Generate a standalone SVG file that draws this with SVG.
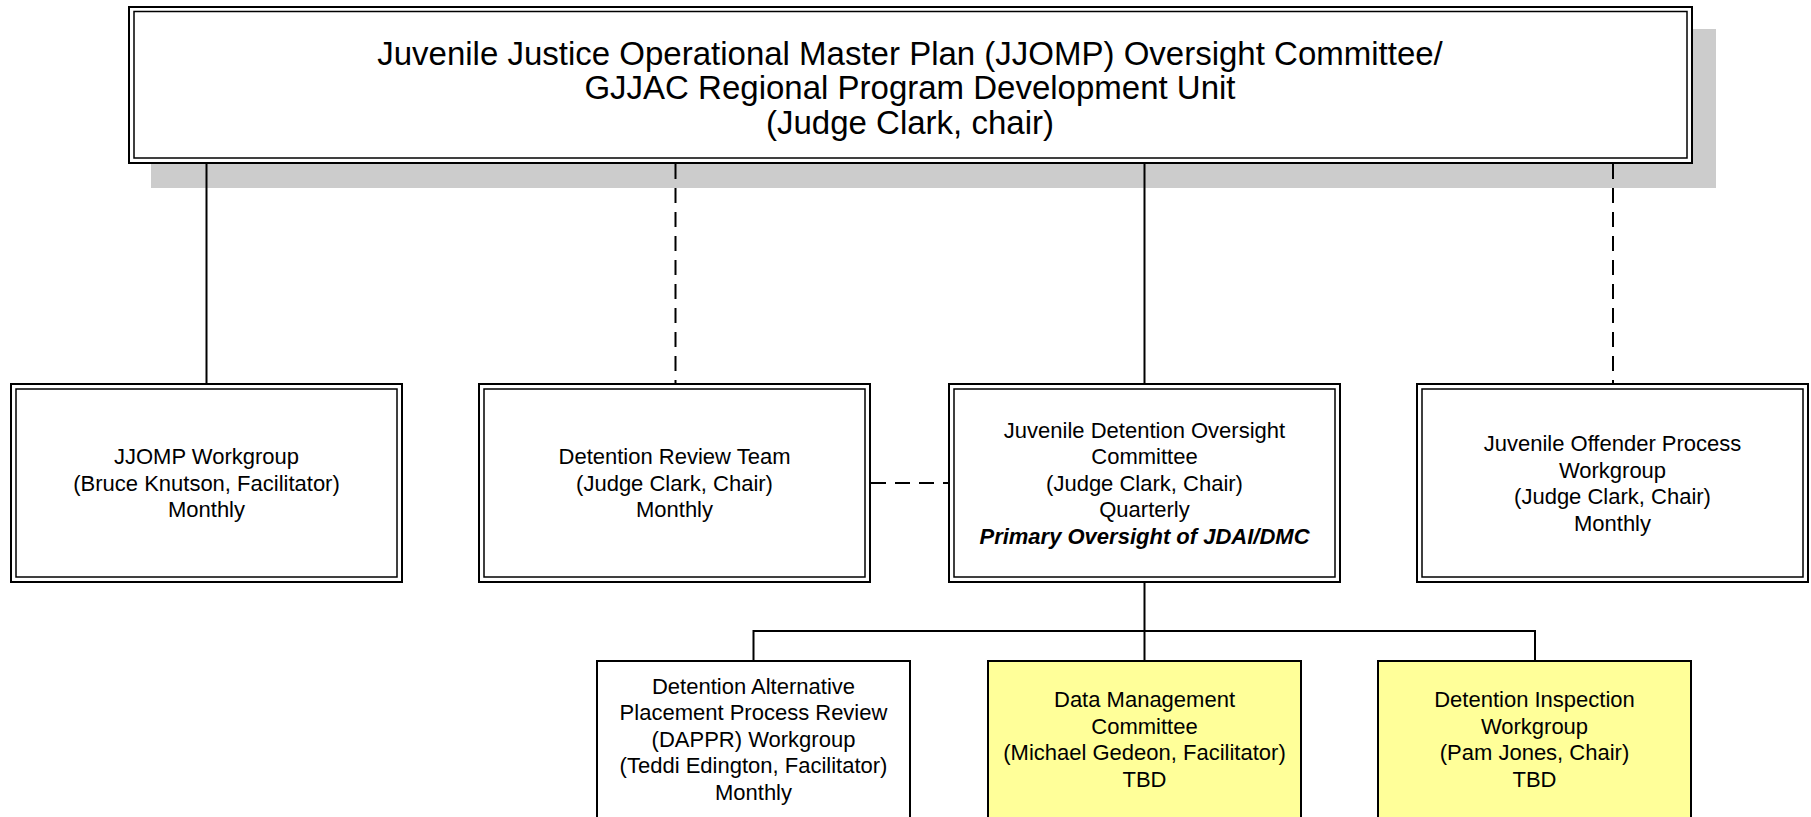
<svg xmlns="http://www.w3.org/2000/svg" width="1811" height="817" viewBox="0 0 1811 817">
<defs>
<style>
text{font-family:"Liberation Sans",Arial,sans-serif;fill:#000;text-anchor:middle}
.t{font-size:33px}
.s{font-size:22px}
.bi{font-weight:bold;font-style:italic}
.o{fill:#fff;stroke:#000;stroke-width:2}
.i{fill:none;stroke:#000;stroke-width:1.5}
.y{fill:#ffff99;stroke:#000;stroke-width:2}
.w{fill:#fff;stroke:#000;stroke-width:2}
.c{stroke:#000;stroke-width:2;fill:none}
.d{stroke:#000;stroke-width:2;fill:none;stroke-dasharray:15 9}
</style>
</defs>
<rect width="1811" height="817" fill="#fff"/>
<rect id="shadow" x="151" y="29" width="1565" height="159" fill="#cccccc"/>
<g id="connectors">
<line class="c" x1="206.5" y1="163" x2="206.5" y2="384"/>
<line class="d" x1="675.5" y1="164" x2="675.5" y2="384"/>
<line class="c" x1="1144.5" y1="163" x2="1144.5" y2="384"/>
<line class="d" x1="1613" y1="164" x2="1613" y2="384"/>
<line class="d" x1="871" y1="483" x2="948" y2="483"/>
<line class="c" x1="1144.5" y1="582" x2="1144.5" y2="661"/>
<polyline class="c" points="753.5,661 753.5,631 1535,631 1535,661"/>
</g>
<g id="top">
<rect class="o" x="129" y="7" width="1563" height="156"/>
<rect class="i" x="134" y="11.5" width="1553" height="146.5"/>
<text class="t" x="910" y="65">Juvenile Justice Operational Master Plan (JJOMP) Oversight Committee/</text>
<text class="t" x="910" y="99">GJJAC Regional Program Development Unit</text>
<text class="t" x="910" y="134">(Judge Clark, chair)</text>
</g>
<g id="jjomp">
<rect class="o" x="11" y="384" width="391" height="198"/>
<rect class="i" x="16" y="389" width="381" height="188"/>
<text class="s" x="206.5" y="464">JJOMP Workgroup</text>
<text class="s" x="206.5" y="490.5">(Bruce Knutson, Facilitator)</text>
<text class="s" x="206.5" y="517">Monthly</text>
</g>
<g id="review">
<rect class="o" x="479" y="384" width="391" height="198"/>
<rect class="i" x="484" y="389" width="381" height="188"/>
<text class="s" x="674.5" y="464">Detention Review Team</text>
<text class="s" x="674.5" y="490.5">(Judge Clark, Chair)</text>
<text class="s" x="674.5" y="517">Monthly</text>
</g>
<g id="jdoc">
<rect class="o" x="949" y="384" width="391" height="198"/>
<rect class="i" x="954" y="389" width="381" height="188"/>
<text class="s" x="1144.5" y="438">Juvenile Detention Oversight</text>
<text class="s" x="1144.5" y="464">Committee</text>
<text class="s" x="1144.5" y="490.5">(Judge Clark, Chair)</text>
<text class="s" x="1144.5" y="517">Quarterly</text>
<text class="s bi" x="1144.5" y="543.5">Primary Oversight of JDAI/DMC</text>
</g>
<g id="jop">
<rect class="o" x="1417" y="384" width="391" height="198"/>
<rect class="i" x="1422" y="389" width="381" height="188"/>
<text class="s" x="1612.5" y="451">Juvenile Offender Process</text>
<text class="s" x="1612.5" y="477.5">Workgroup</text>
<text class="s" x="1612.5" y="504">(Judge Clark, Chair)</text>
<text class="s" x="1612.5" y="530.5">Monthly</text>
</g>
<g id="dappr">
<rect class="w" x="597" y="661" width="313" height="170"/>
<text class="s" x="753.5" y="694">Detention Alternative</text>
<text class="s" x="753.5" y="720">Placement Process Review</text>
<text class="s" x="753.5" y="746.5">(DAPPR) Workgroup</text>
<text class="s" x="753.5" y="773">(Teddi Edington, Facilitator)</text>
<text class="s" x="753.5" y="800">Monthly</text>
</g>
<g id="data">
<rect class="y" x="988" y="661" width="313" height="170"/>
<text class="s" x="1144.5" y="707">Data Management</text>
<text class="s" x="1144.5" y="734">Committee</text>
<text class="s" x="1144.5" y="760">(Michael Gedeon, Facilitator)</text>
<text class="s" x="1144.5" y="787">TBD</text>
</g>
<g id="inspection">
<rect class="y" x="1378" y="661" width="313" height="170"/>
<text class="s" x="1534.5" y="707">Detention Inspection</text>
<text class="s" x="1534.5" y="734">Workgroup</text>
<text class="s" x="1534.5" y="760">(Pam Jones, Chair)</text>
<text class="s" x="1534.5" y="787">TBD</text>
</g>
</svg>
